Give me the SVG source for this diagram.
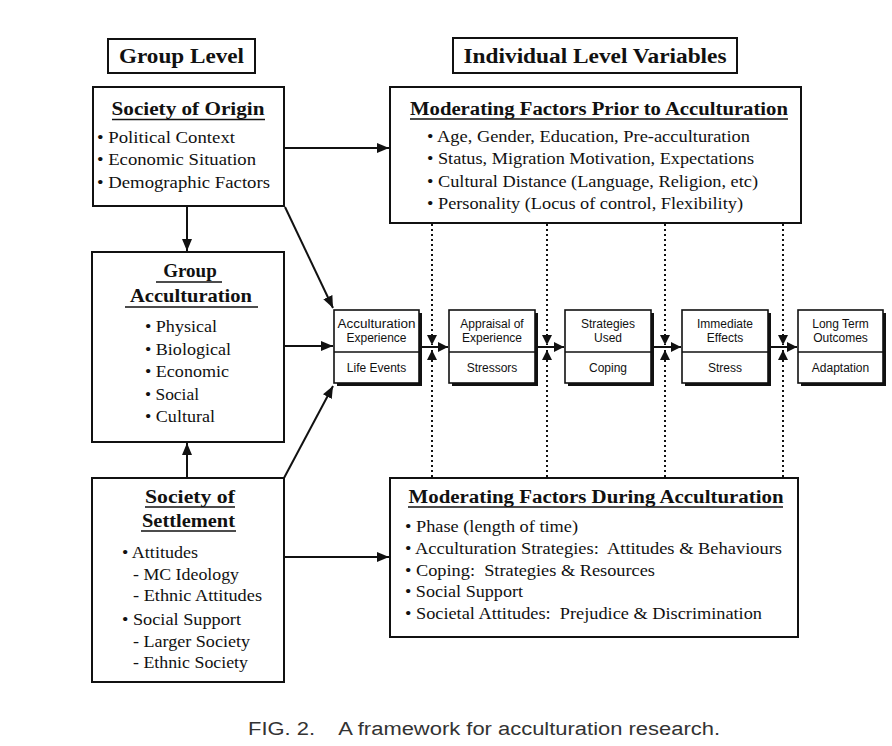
<svg xmlns="http://www.w3.org/2000/svg" width="892" height="746" viewBox="0 0 892 746">
<defs>
<style>
.box{fill:#fff;stroke:#111;stroke-width:2}
.sh{fill:#111}
.sbox{fill:#fff;stroke:#111;stroke-width:1.6}
.t{font-family:"Liberation Serif","Times New Roman",serif;fill:#111;font-size:16px;white-space:pre}
.l{font-size:17px}
.h{font-family:"Liberation Serif","Times New Roman",serif;fill:#111;font-weight:bold;font-size:18px;text-anchor:middle}
.s{font-family:"Liberation Sans",Arial,sans-serif;fill:#111;font-size:12px;text-anchor:middle}
.ul{stroke:#111;stroke-width:1.4}
.con{stroke:#111;stroke-width:2;fill:none}
.dot{stroke:#111;stroke-width:2;fill:none;stroke-dasharray:2 3}
.cap{font-family:"Liberation Sans",Arial,sans-serif;fill:#333;font-size:18px;white-space:pre}
</style>
<marker id="ah" markerUnits="userSpaceOnUse" markerWidth="12" markerHeight="10" refX="12" refY="5" orient="auto"><path d="M0,0 L12,5 L0,10 z" fill="#111"/></marker>
<marker id="ahs" markerUnits="userSpaceOnUse" markerWidth="10" markerHeight="10" refX="10" refY="5" orient="auto"><path d="M0,0 L10,5 L0,10 z" fill="#111"/></marker>
</defs>
<rect width="892" height="746" fill="#fff"/>

<g id="group-level">
<rect class="box" x="108" y="39" width="147" height="34"/>
<text class="h" x="181.5" y="63" textLength="125" lengthAdjust="spacingAndGlyphs" style="font-size:20px">Group Level</text>
</g>

<g id="individual-level">
<rect class="box" x="453" y="38" width="284" height="35"/>
<text class="h" x="595" y="63" textLength="263" lengthAdjust="spacingAndGlyphs" style="font-size:20px">Individual Level Variables</text>
</g>

<g id="society-of-origin">
<rect class="box" x="93" y="87" width="191" height="119"/>
<text class="h" x="188" y="115" textLength="153" lengthAdjust="spacingAndGlyphs">Society of Origin</text>
<line class="ul" x1="112" y1="119.5" x2="265" y2="119.5"/>
<text class="t l" x="97" y="143" textLength="138" lengthAdjust="spacingAndGlyphs">• Political Context</text>
<text class="t l" x="97" y="165" textLength="159" lengthAdjust="spacingAndGlyphs">• Economic Situation</text>
<text class="t l" x="97" y="188" textLength="173" lengthAdjust="spacingAndGlyphs">• Demographic Factors</text>
</g>

<g id="group-acculturation">
<rect class="box" x="92" y="252" width="192" height="190"/>
<text class="h" x="190" y="277" style="font-size:19px">Group</text>
<line class="ul" x1="156" y1="282" x2="222" y2="282"/>
<text class="h" x="191" y="302" textLength="122" lengthAdjust="spacingAndGlyphs" style="font-size:19px">Acculturation</text>
<line class="ul" x1="125" y1="307" x2="258" y2="307"/>
<text class="t l" x="145" y="332" textLength="72" lengthAdjust="spacingAndGlyphs">• Physical</text>
<text class="t l" x="145" y="355" textLength="86" lengthAdjust="spacingAndGlyphs">• Biological</text>
<text class="t l" x="145" y="377" textLength="84" lengthAdjust="spacingAndGlyphs">• Economic</text>
<text class="t l" x="145" y="400" textLength="54" lengthAdjust="spacingAndGlyphs">• Social</text>
<text class="t l" x="145" y="422" textLength="70" lengthAdjust="spacingAndGlyphs">• Cultural</text>
</g>

<g id="society-of-settlement">
<rect class="box" x="92" y="478" width="192" height="204"/>
<text class="h" x="190" y="503" textLength="90" lengthAdjust="spacingAndGlyphs" style="font-size:19px">Society of</text>
<line class="ul" x1="145" y1="507" x2="235" y2="507"/>
<text class="h" x="188.5" y="527" textLength="93" lengthAdjust="spacingAndGlyphs" style="font-size:19px">Settlement</text>
<line class="ul" x1="141" y1="531" x2="236" y2="531"/>
<text class="t l" x="122" y="558" textLength="76" lengthAdjust="spacingAndGlyphs">• Attitudes</text>
<text class="t l" x="133" y="580" textLength="106" lengthAdjust="spacingAndGlyphs">- MC Ideology</text>
<text class="t l" x="133" y="601" textLength="129" lengthAdjust="spacingAndGlyphs">- Ethnic Attitudes</text>
<text class="t l" x="122" y="625" textLength="119" lengthAdjust="spacingAndGlyphs">• Social Support</text>
<text class="t l" x="133" y="647" textLength="117" lengthAdjust="spacingAndGlyphs">- Larger Society</text>
<text class="t l" x="133" y="668" textLength="115" lengthAdjust="spacingAndGlyphs">- Ethnic Society</text>
</g>

<g id="moderating-prior">
<rect class="box" x="390" y="87" width="411" height="136"/>
<text class="h" x="599" y="115" textLength="378" lengthAdjust="spacingAndGlyphs">Moderating Factors Prior to Acculturation</text>
<line class="ul" x1="410" y1="119" x2="788" y2="119"/>
<text class="t" x="427" y="142" textLength="323" lengthAdjust="spacingAndGlyphs">• Age, Gender, Education, Pre-acculturation</text>
<text class="t" x="427" y="164" textLength="327" lengthAdjust="spacingAndGlyphs">• Status, Migration Motivation, Expectations</text>
<text class="t" x="427" y="187" textLength="331" lengthAdjust="spacingAndGlyphs">• Cultural Distance (Language, Religion, etc)</text>
<text class="t" x="427" y="209" textLength="316" lengthAdjust="spacingAndGlyphs">• Personality (Locus of control, Flexibility)</text>
</g>

<g id="moderating-during">
<rect class="box" x="390" y="478" width="408" height="159"/>
<text class="h" x="596" y="503" textLength="375" lengthAdjust="spacingAndGlyphs">Moderating Factors During Acculturation</text>
<line class="ul" x1="408" y1="507" x2="783" y2="507"/>
<text class="t" x="405" y="532" textLength="173" lengthAdjust="spacingAndGlyphs">• Phase (length of time)</text>
<text class="t" x="405" y="554" textLength="377" lengthAdjust="spacingAndGlyphs">• Acculturation Strategies:  Attitudes &amp; Behaviours</text>
<text class="t" x="405" y="576" textLength="250" lengthAdjust="spacingAndGlyphs">• Coping:  Strategies &amp; Resources</text>
<text class="t" x="405" y="597" textLength="118" lengthAdjust="spacingAndGlyphs">• Social Support</text>
<text class="t" x="405" y="619" textLength="357" lengthAdjust="spacingAndGlyphs">• Societal Attitudes:  Prejudice &amp; Discrimination</text>
</g>

<g id="acculturation-experience">
<rect class="sh" x="337" y="313" width="85" height="73"/>
<rect class="sbox" x="334" y="310" width="85" height="73"/>
<line class="ul" x1="334" y1="352" x2="419" y2="352"/>
<text class="s" x="376.5" y="328" textLength="78" lengthAdjust="spacingAndGlyphs">Acculturation</text>
<text class="s" x="376.5" y="342">Experience</text>
<text class="s" x="376.5" y="372">Life Events</text>
</g>

<g id="appraisal">
<rect class="sh" x="452" y="313" width="86" height="73"/>
<rect class="sbox" x="449" y="310" width="86" height="73"/>
<line class="ul" x1="449" y1="352" x2="535" y2="352"/>
<text class="s" x="492" y="328">Appraisal of</text>
<text class="s" x="492" y="342">Experience</text>
<text class="s" x="492" y="372">Stressors</text>
</g>

<g id="strategies">
<rect class="sh" x="568" y="313" width="86" height="73"/>
<rect class="sbox" x="565" y="310" width="86" height="73"/>
<line class="ul" x1="565" y1="352" x2="651" y2="352"/>
<text class="s" x="608" y="328">Strategies</text>
<text class="s" x="608" y="342">Used</text>
<text class="s" x="608" y="372">Coping</text>
</g>

<g id="immediate-effects">
<rect class="sh" x="685" y="313" width="86" height="73"/>
<rect class="sbox" x="682" y="310" width="86" height="73"/>
<line class="ul" x1="682" y1="352" x2="768" y2="352"/>
<text class="s" x="725" y="328">Immediate</text>
<text class="s" x="725" y="342">Effects</text>
<text class="s" x="725" y="372">Stress</text>
</g>

<g id="long-term-outcomes">
<rect class="sh" x="801" y="313" width="85" height="73"/>
<rect class="sbox" x="798" y="310" width="85" height="73"/>
<line class="ul" x1="798" y1="352" x2="883" y2="352"/>
<text class="s" x="840.5" y="328">Long Term</text>
<text class="s" x="840.5" y="342">Outcomes</text>
<text class="s" x="840.5" y="372">Adaptation</text>
</g>

<g id="connectors">
<line class="con" x1="284" y1="148" x2="389" y2="148" marker-end="url(#ah)"/>
<line class="con" x1="187" y1="207" x2="187" y2="251" marker-end="url(#ah)"/>
<line class="con" x1="285" y1="207" x2="333" y2="308" marker-end="url(#ah)"/>
<line class="con" x1="284" y1="346" x2="333" y2="346" marker-end="url(#ah)"/>
<line class="con" x1="187" y1="477" x2="187" y2="443" marker-end="url(#ah)"/>
<line class="con" x1="284" y1="478" x2="333" y2="386" marker-end="url(#ah)"/>
<line class="con" x1="284" y1="557" x2="389" y2="557" marker-end="url(#ah)"/>
<line class="con" x1="420" y1="347" x2="448" y2="347" marker-end="url(#ahs)"/>
<line class="con" x1="536" y1="347" x2="564" y2="347" marker-end="url(#ahs)"/>
<line class="con" x1="652" y1="347" x2="681" y2="347" marker-end="url(#ahs)"/>
<line class="con" x1="769" y1="347" x2="797" y2="347" marker-end="url(#ahs)"/>
<line class="dot" x1="432" y1="224" x2="432" y2="345" marker-end="url(#ahs)"/>
<line class="dot" x1="432" y1="477" x2="432" y2="350" marker-end="url(#ahs)"/>
<line class="dot" x1="547" y1="224" x2="547" y2="345" marker-end="url(#ahs)"/>
<line class="dot" x1="547" y1="477" x2="547" y2="350" marker-end="url(#ahs)"/>
<line class="dot" x1="665" y1="224" x2="665" y2="345" marker-end="url(#ahs)"/>
<line class="dot" x1="665" y1="477" x2="665" y2="350" marker-end="url(#ahs)"/>
<line class="dot" x1="783" y1="224" x2="783" y2="345" marker-end="url(#ahs)"/>
<line class="dot" x1="783" y1="477" x2="783" y2="350" marker-end="url(#ahs)"/>
</g>

<text class="cap" x="248" y="735" textLength="472" lengthAdjust="spacingAndGlyphs">FIG. 2.    A framework for acculturation research.</text>
</svg>
